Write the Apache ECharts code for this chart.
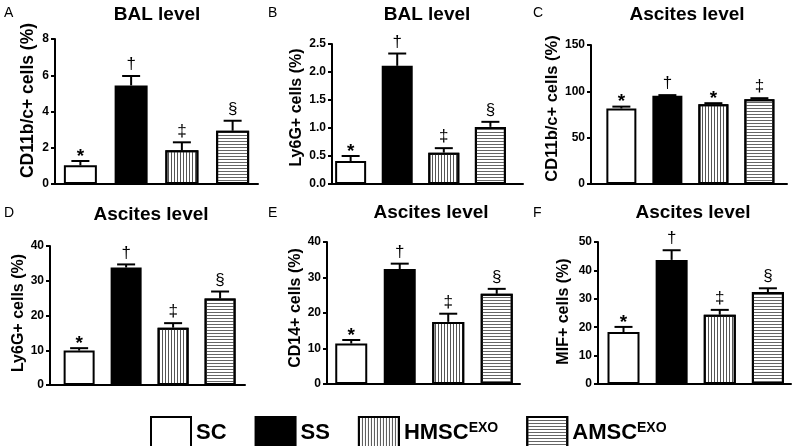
<!DOCTYPE html>
<html><head><meta charset="utf-8">
<script src="https://cdn.jsdelivr.net/npm/echarts@6/dist/echarts.min.js"></script>
<style>html,body{margin:0;padding:0;background:#fff}#c{width:797px;height:446px}</style>
</head><body><div id="c"></div>
<script>
// ---- data ----
const groups = ['SC', 'SS', 'HMSC', 'AMSC'];
const panelLetters = ['A', 'B', 'C', 'D', 'E', 'F'];
const panelTitles = ['BAL level', 'BAL level', 'Ascites level', 'Ascites level', 'Ascites level', 'Ascites level'];
const yNames = ['CD11b/c+ cells (%)', 'Ly6G+ cells (%)', 'CD11b/c+ cells (%)', 'Ly6G+ cells (%)', 'CD14+ cells (%)', 'MIF+ cells (%)'];
const yMax = [8, 2.5, 150, 40, 40, 50];
const yStep = [2, 0.5, 50, 10, 10, 10];

const meanA = [1.03, 5.44, 1.86, 2.94];
const semA  = [0.24, 0.52, 0.44, 0.55];
const sigA  = ['*', '†', '‡', '§'];

const meanB = [0.41, 2.11, 0.56, 1.02];
const semB  = [0.09, 0.22, 0.08, 0.09];
const sigB  = ['*', '†', '‡', '§'];

const meanC = [81.5, 95.1, 86.1, 91.5];
const semC  = [2.0, 0.8, 1.1, 1.1];
const sigC  = ['*', '†', '*', '‡'];

const meanD = [9.9, 33.8, 16.5, 24.9];
const semD  = [0.7, 0.9, 1.3, 2.0];
const sigD  = ['*', '†', '‡', '§'];

const meanE = [11.4, 32.4, 17.5, 25.4];
const semE  = [1.0, 1.5, 2.3, 1.4];
const sigE  = ['*', '†', '‡', '§'];

const meanF = [18.3, 43.7, 24.4, 32.4];
const semF  = [1.8, 3.4, 1.7, 1.3];
const sigF  = ['*', '†', '‡', '§'];

const means = [meanA, meanB, meanC, meanD, meanE, meanF];
const sems  = [semA, semB, semC, semD, semE, semF];
const sigs  = [sigA, sigB, sigC, sigD, sigE, sigF];

// ---- layout ----
const FONT = "'Liberation Sans', Arial, Helvetica, sans-serif";
const layout = [
  {grid: {left: 55,  top: 39,  width: 203, height: 145}, xr: [-0.5, 3.5],   bw: 33, nameGap: 18, nameSize: 17.5, namePad: 22, title: [157, 15], letter: [4, 13]},
  {grid: {left: 332, top: 44,  width: 191, height: 140}, xr: [-0.4, 3.7],   bw: 31, nameGap: 27, nameSize: 16,   namePad: 13, title: [427, 15], letter: [268, 13]},
  {grid: {left: 591, top: 45,  width: 196, height: 139}, xr: [-0.66, 3.6],  bw: 30, nameGap: 25, nameSize: 16.5, namePad: 12, title: [687, 15], letter: [533, 13]},
  {grid: {left: 50,  top: 246, width: 195, height: 139}, xr: [-0.62, 3.53], bw: 31, nameGap: 18, nameSize: 16,   namePad: 5,  title: [151, 215], letter: [4, 213]},
  {grid: {left: 327, top: 242, width: 193, height: 142}, xr: [-0.5, 3.48],  bw: 32, nameGap: 20, nameSize: 16,   namePad: 10, title: [431, 213], letter: [268, 213]},
  {grid: {left: 598, top: 242, width: 193, height: 142}, xr: [-0.53, 3.48], bw: 32, nameGap: 26, nameSize: 16,   namePad: 3,  title: [693, 213], letter: [533, 213]}
];

const barStyles = [
  {color: '#fff', borderColor: '#000', borderWidth: 2},
  {color: '#000', borderColor: '#000', borderWidth: 2},
  {color: '#fff', borderColor: '#000', borderWidth: 2,
   decal: {symbol: 'rect', symbolSize: 1, dashArrayX: [1, 2], dashArrayY: [4, 0], color: '#555'}},
  {color: '#fff', borderColor: '#000', borderWidth: 2,
   decal: {symbol: 'rect', symbolSize: 1, dashArrayX: [4, 0], dashArrayY: [1, 2], color: '#666'}}
];

const grids = [], xAxes = [], yAxes = [], series = [], graphics = [];
layout.forEach((L, p) => {
  grids.push(Object.assign({containLabel: false}, L.grid));
  xAxes.push({
    type: 'value', gridIndex: p, min: L.xr[0], max: L.xr[1],
    axisLine: {show: true, onZero: false, lineStyle: {color: '#000', width: 2}},
    axisTick: {show: false}, axisLabel: {show: false}, splitLine: {show: false}
  });
  yAxes.push({
    type: 'value', gridIndex: p, min: 0, max: yMax[p], interval: yStep[p],
    name: yNames[p], nameLocation: 'middle', nameRotate: 90, nameGap: L.nameGap,
    nameTextStyle: {fontFamily: FONT, fontSize: L.nameSize, fontWeight: 'bold', color: '#000', padding: [0, 0, 0, L.namePad]},
    axisLine: {show: true, onZero: false, lineStyle: {color: '#000', width: 2}},
    axisTick: {show: true, length: 4, lineStyle: {color: '#000', width: 2}},
    axisLabel: {fontFamily: FONT, fontSize: 12, fontWeight: 'bold', color: '#000', margin: 6,
      formatter: v => (yStep[p] < 1 ? v.toFixed(1) : String(v))},
    splitLine: {show: false}
  });
  groups.forEach((g, i) => {
    series.push({
      type: 'bar', name: g, xAxisIndex: p, yAxisIndex: p,
      data: [[i, means[p][i]]], barWidth: L.bw, barGap: '-100%',
      itemStyle: barStyles[i], silent: true, z: 2
    });
  });
  series.push({
    type: 'custom', xAxisIndex: p, yAxisIndex: p, z: 3, silent: true,
    data: means[p].map((m, i) => [i, m, m + sems[p][i]]),
    renderItem: (params, api) => {
      const x = api.value(0), m = api.value(1), e = api.value(2);
      const p0 = api.coord([x, m]), p1 = api.coord([x, e]);
      const cap = 9;
      const s = sigs[p][params.dataIndex];
      const isStar = s === '*';
      return {type: 'group', children: [
        {type: 'line', shape: {x1: p0[0], y1: p0[1], x2: p1[0], y2: p1[1]}, style: {stroke: '#000', lineWidth: 2}},
        {type: 'line', shape: {x1: p1[0] - cap, y1: p1[1], x2: p1[0] + cap, y2: p1[1]}, style: {stroke: '#000', lineWidth: 2}},
        {type: 'text', x: p1[0], y: p1[1] + (isStar ? 5 : -3), style: {text: s, align: 'center', verticalAlign: 'bottom',
          font: (isStar ? 'bold 19px ' : '17px ') + FONT, fill: '#000'}}
      ]};
    }
  });
  graphics.push({type: 'text', x: L.title[0], y: L.title[1], style: {text: panelTitles[p], align: 'center', verticalAlign: 'middle',
    font: 'bold 19px ' + FONT, fill: '#000'}});
  graphics.push({type: 'text', x: L.letter[0], y: L.letter[1], style: {text: panelLetters[p], align: 'left', verticalAlign: 'middle',
    font: '14px ' + FONT, fill: '#000'}});
});

const chart = echarts.init(document.getElementById('c'), null, {renderer: 'canvas'});
chart.setOption({
  animation: false,
  backgroundColor: '#fff',
  grid: grids, xAxis: xAxes, yAxis: yAxes, series: series,
  graphic: graphics,
  legend: {
    data: groups, left: 145, top: 411, itemWidth: 40, itemHeight: 31, itemGap: 28,
    icon: 'rect', selectedMode: false,
    formatter: n => (n === 'HMSC' || n === 'AMSC') ? '{m|' + n + '}{s|EXO}' : '{m|' + n + '}',
    textStyle: {fontFamily: FONT, fontSize: 22, fontWeight: 'bold', color: '#000',
      rich: {m: {fontFamily: FONT, fontSize: 22, fontWeight: 'bold', color: '#000'},
             s: {fontFamily: FONT, fontSize: 14, fontWeight: 'bold', color: '#000', verticalAlign: 'top'}}}
  }
});
</script></body></html>
